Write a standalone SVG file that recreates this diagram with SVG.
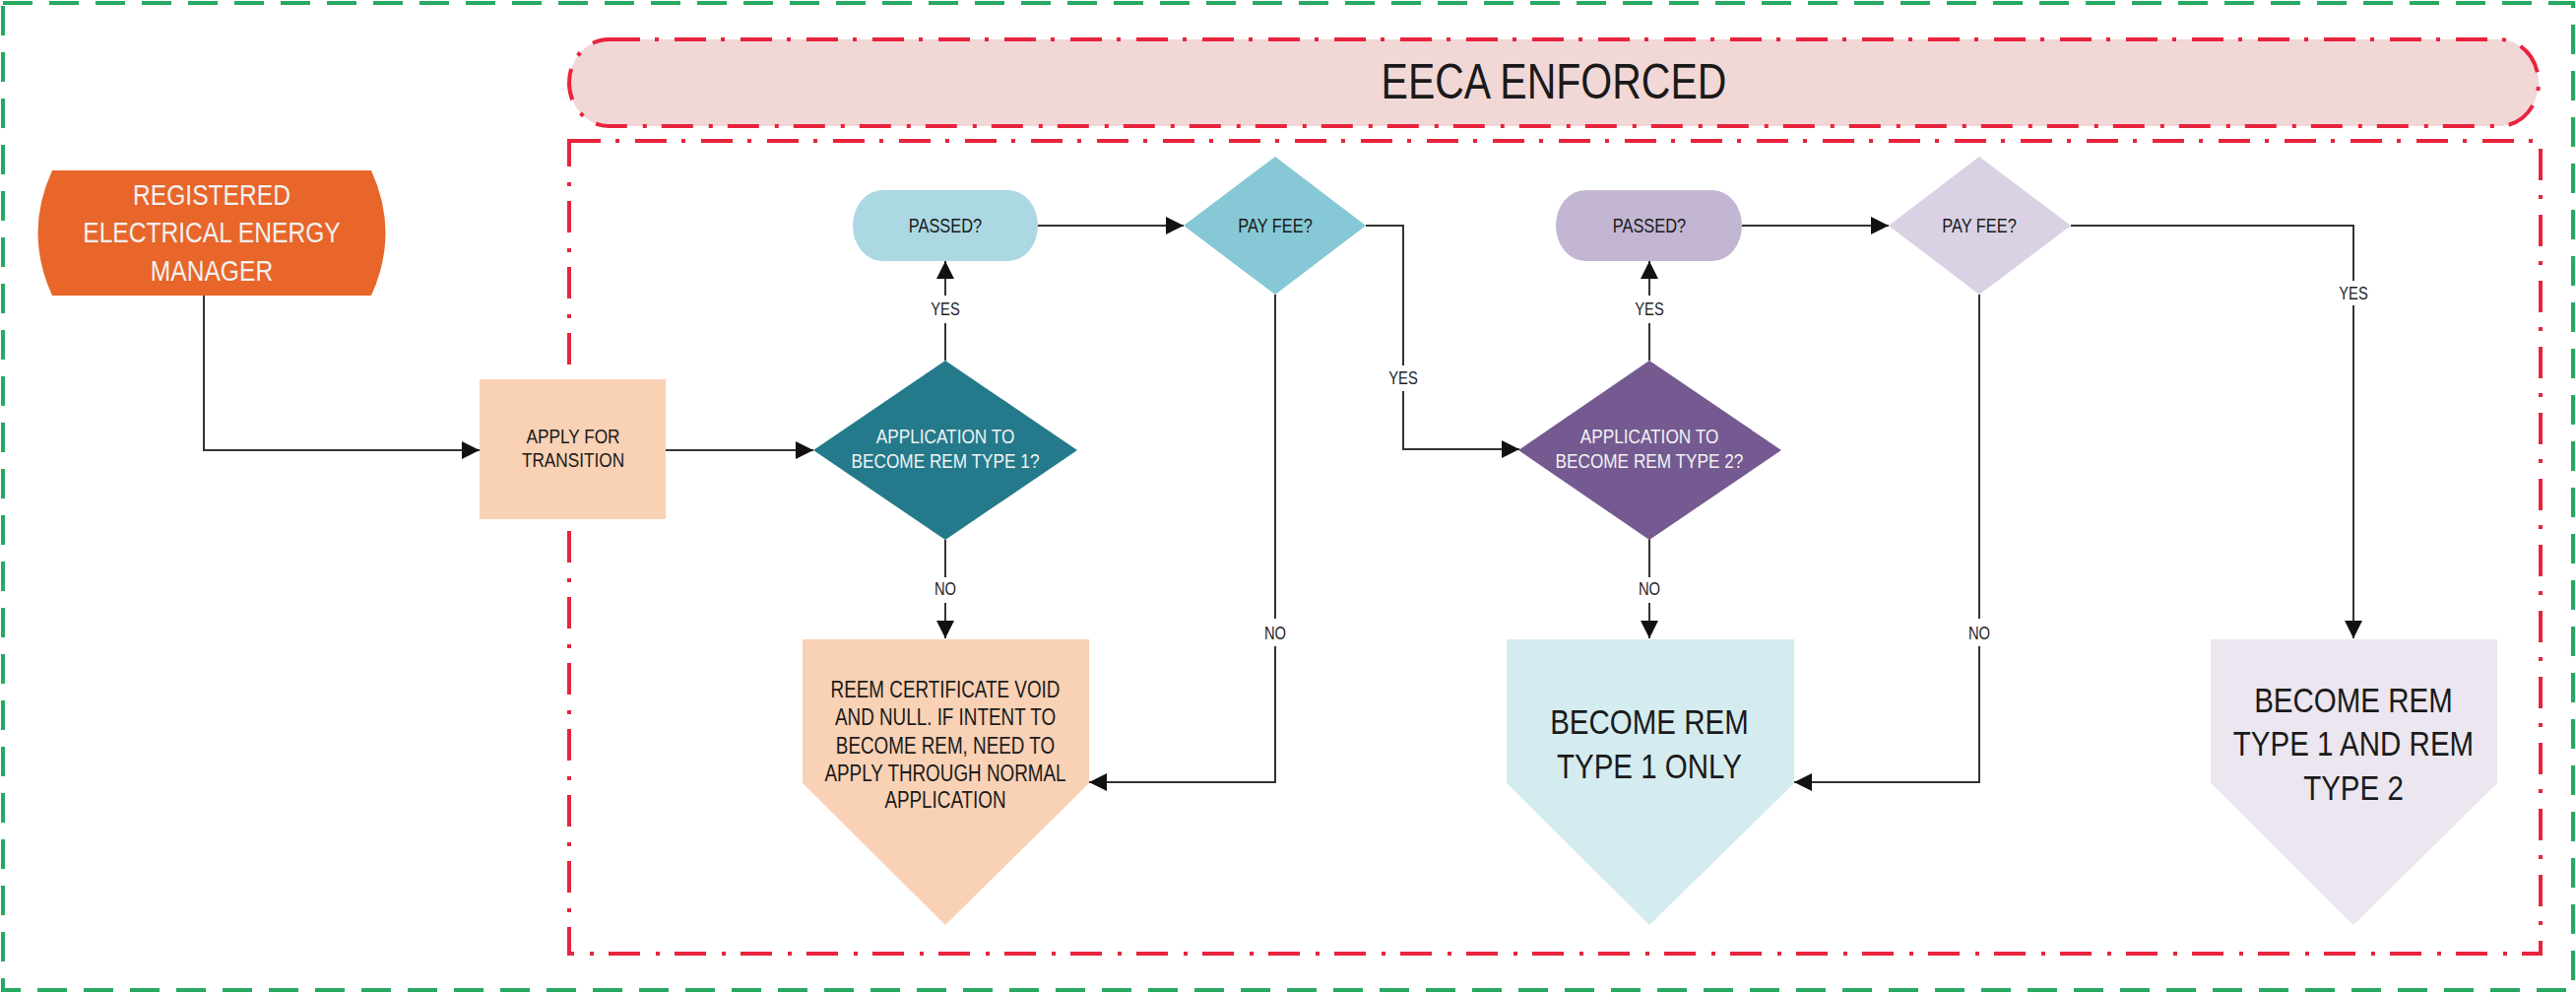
<svg xmlns="http://www.w3.org/2000/svg" width="2616" height="1009" viewBox="0 0 2616 1009">
<defs>
<marker id="arr" markerUnits="userSpaceOnUse" viewBox="0 0 18 18" refX="18" refY="9" markerWidth="18" markerHeight="18" orient="auto">
<path d="M0,0 L18,9 L0,18 Z" fill="#111"/>
</marker>
<style>
text{font-family:"Liberation Sans",Arial,sans-serif;text-anchor:middle;transform:scaleX(0.82);transform-box:fill-box;transform-origin:center}
.dk{fill:#1a1a1a}
.wt{fill:#f2f2f2}
.lbl{font-size:18px;fill:#222}
.con{fill:none;stroke:#333;stroke-width:2}
.arr{marker-end:url(#arr)}
.green{fill:none;stroke:#27a961;stroke-width:4;stroke-dasharray:30 17}
.red{stroke:#e8243c;stroke-width:4;stroke-dasharray:32 15 4 16}
</style>
</defs>
<g id="containers">
<rect class="green" x="3" y="3" width="2610" height="1002"/>
<rect id="eeca-area" class="red" fill="none" x="578" y="143" width="2002" height="825"/>
</g>
<g id="eeca-title">
<rect class="red" fill="#f2d7d7" x="578" y="40" width="2000" height="88" rx="40" ry="44"/>
<text class="dk" x="1578" y="100" font-size="50">EECA ENFORCED</text>
</g>
<g id="connectors">
<path class="con arr" d="M207,300 V457 H487"/>
<path class="con arr" d="M676,457 H826"/>
<path class="con arr" d="M960,366 V328 M960,300 V265"/>
<path class="con arr" d="M1054,229 H1202"/>
<path class="con arr" d="M1387,229 H1425 V371 M1425,397 V456 H1543"/>
<path class="con arr" d="M1295,299 V628 M1295,656 V794 H1106"/>
<path class="con arr" d="M960,548 V586 M960,612 V648"/>
<path class="con arr" d="M1675,366 V328 M1675,300 V265"/>
<path class="con arr" d="M1769,229 H1918"/>
<path class="con arr" d="M2103,229 H2390 V285 M2390,310 V648"/>
<path class="con arr" d="M2010,299 V628 M2010,656 V794 H1822"/>
<path class="con arr" d="M1675,547 V586 M1675,612 V648"/>
<text class="lbl" x="960" y="320">YES</text>
<text class="lbl" x="1425" y="390">YES</text>
<text class="lbl" x="1295" y="649">NO</text>
<text class="lbl" x="960" y="604">NO</text>
<text class="lbl" x="1675" y="320">YES</text>
<text class="lbl" x="2390" y="304">YES</text>
<text class="lbl" x="2010" y="649">NO</text>
<text class="lbl" x="1675" y="604">NO</text>
</g>
<g id="rem">
<path d="M53,173 L377,173 Q406,236.5 377,300 L53,300 Q24,236.5 53,173 Z" fill="#e8662a"/>
<text class="wt" x="215" y="208" font-size="30">REGISTERED</text>
<text class="wt" x="215" y="246" font-size="30">ELECTRICAL ENERGY</text>
<text class="wt" x="215" y="285" font-size="30">MANAGER</text>
</g>
<g id="apply">
<rect x="487" y="385" width="189" height="142" fill="#f9d1b5"/>
<text class="dk" x="582" y="450" font-size="21">APPLY FOR</text>
<text class="dk" x="582" y="474" font-size="21">TRANSITION</text>
</g>
<g id="app-type1">
<path d="M960,366 L1094,457 L960,548 L826,457 Z" fill="#247a8b"/>
<text class="wt" x="960" y="450" font-size="21">APPLICATION TO</text>
<text class="wt" x="960" y="475" font-size="21">BECOME REM TYPE 1?</text>
</g>
<g id="passed1">
<rect x="866" y="193" width="188" height="72" rx="30" ry="36" fill="#acd8e4"/>
<text class="dk" x="960" y="236" font-size="20">PASSED?</text>
</g>
<g id="payfee1">
<path d="M1295,159 L1387,229 L1295,299 L1202,229 Z" fill="#86c8d5"/>
<text class="dk" x="1295" y="236" font-size="20">PAY FEE?</text>
</g>
<g id="void">
<path d="M815,649 H1106 V795 L960,939 L815,795 Z" fill="#f9d1b5"/>
<text class="dk" x="960" y="708" font-size="23">REEM CERTIFICATE VOID</text>
<text class="dk" x="960" y="736" font-size="23">AND NULL. IF INTENT TO</text>
<text class="dk" x="960" y="765" font-size="23">BECOME REM, NEED TO</text>
<text class="dk" x="960" y="793" font-size="23">APPLY THROUGH NORMAL</text>
<text class="dk" x="960" y="820" font-size="23">APPLICATION</text>
</g>
<g id="app-type2">
<path d="M1675,366 L1809,457 L1675,548 L1542,457 Z" fill="#745a91"/>
<text class="wt" x="1675" y="450" font-size="21">APPLICATION TO</text>
<text class="wt" x="1675" y="475" font-size="21">BECOME REM TYPE 2?</text>
</g>
<g id="passed2">
<rect x="1580" y="193" width="189" height="72" rx="30" ry="36" fill="#c3b6d3"/>
<text class="dk" x="1675" y="236" font-size="20">PASSED?</text>
</g>
<g id="payfee2">
<path d="M2010,159 L2103,229 L2010,299 L1918,229 Z" fill="#dad1e4"/>
<text class="dk" x="2010" y="236" font-size="20">PAY FEE?</text>
</g>
<g id="type1only">
<path d="M1530,649 H1822 V795 L1675,939 L1530,795 Z" fill="#d4ebf0"/>
<text class="dk" x="1675" y="745" font-size="36">BECOME REM</text>
<text class="dk" x="1675" y="790" font-size="36">TYPE 1 ONLY</text>
</g>
<g id="type1and2">
<path d="M2245,649 H2536 V795 L2390,939 L2245,795 Z" fill="#ebe6ef"/>
<text class="dk" x="2390" y="723" font-size="36">BECOME REM</text>
<text class="dk" x="2390" y="767" font-size="36">TYPE 1 AND REM</text>
<text class="dk" x="2390" y="812" font-size="36">TYPE 2</text>
</g>
</svg>
